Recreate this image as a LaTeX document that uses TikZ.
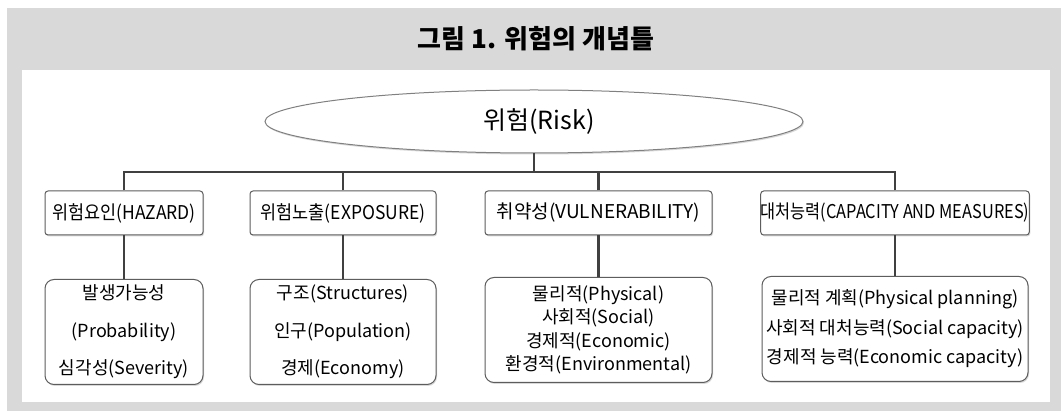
\documentclass[tikz,border=0pt]{standalone}
\usepackage{fontspec}
\setmainfont{Noto Sans CJK KR}
\newfontfamily\cjkcond[FakeStretch=0.92]{Noto Sans CJK KR}
\newfontfamily\cjknarrow[FakeStretch=0.86]{Noto Sans CJK KR}
\usetikzlibrary{shapes.geometric,shadows}
\definecolor{framegray}{HTML}{D9D9D9}
\definecolor{linegray}{HTML}{404040}
\begin{document}
\begin{tikzpicture}[x=1pt,y=-1pt,line cap=butt,line join=miter]
	\tikzset{boxshadow/.style={drop shadow={shadow xshift=1pt,shadow yshift=-1.5pt,opacity=.3}},
		head/.style={draw=linegray!85,fill=white,rounded corners=3pt,line width=1pt,boxshadow,
			minimum height=44pt,inner sep=0pt,font=\fontsize{19}{22}\selectfont\cjkcond},
		item/.style={draw=linegray!85,fill=white,rounded corners=9pt,line width=1pt,boxshadow,
			minimum height=105pt,inner sep=0pt,align=center},
		link/.style={draw=linegray,line width=2.2pt}
	}
	\useasboundingbox (0,0) rectangle (1061,411);
	\fill[framegray] (7,8) rectangle (1061,411);
	\fill[white] (22,70) rectangle (1050,402);
	\node[font=\bfseries\fontsize{26}{30}\selectfont] (title) at (536,39) {그림 1. 위험의 개념틀};
	\node[ellipse,draw=gray,fill=white,line width=1pt,boxshadow,minimum width=538pt,minimum height=63pt,
		inner sep=0pt,font=\fontsize{25}{28}\selectfont] (risk) at (534,121.5) {\hspace*{10pt}위험(Risk)};
	\node[head,minimum width=158pt] (haz) at (124,213) {위험요인(HAZARD)};
	\node[head,minimum width=186pt] (expo) at (343,213) {위험노출(EXPOSURE)};
	\node[head,minimum width=227pt,font=\fontsize{19}{22}\selectfont\normalfont] (vuln) at (598.5,213) {취약성(VULNERABILITY)};
	\node[head,minimum width=266pt,font=\fontsize{19}{22}\selectfont\cjknarrow] (capa) at (895,213) {대처능력(CAPACITY AND MEASURES)};
	\node[item,minimum width=158pt,font=\fontsize{18}{37.5}\selectfont] (hazsub) at (124,332)
		{발생가능성\\(Probability)\\심각성(Severity)};
	\node[item,minimum width=186pt,font=\fontsize{18}{37.5}\selectfont] (exposub) at (343,332)
		{구조(Structures)\\인구(Population)\\경제(Economy)};
	\node[item,minimum width=227pt,font=\fontsize{18}{23.5}\selectfont] (vulnsub) at (598.5,330)
		{물리적(Physical)\\사회적(Social)\\경제적(Economic)\\환경적(Environmental)};
	\node[item,minimum width=266pt,font=\fontsize{18}{29.5}\selectfont] (capasub) at (895,329)
		{물리적 계획(Physical planning)\\사회적 대처능력(Social capacity)\\경제적 능력(Economic capacity)};
	\coordinate (bus) at (534,172);
	\draw[link] (risk) -- (bus);
	\foreach \n in {haz,expo,vuln,capa}{
		\draw[link] (\n) |- (bus);
		\draw[link] (\n) -- (\n sub);
	}
\end{tikzpicture}
\end{document}
